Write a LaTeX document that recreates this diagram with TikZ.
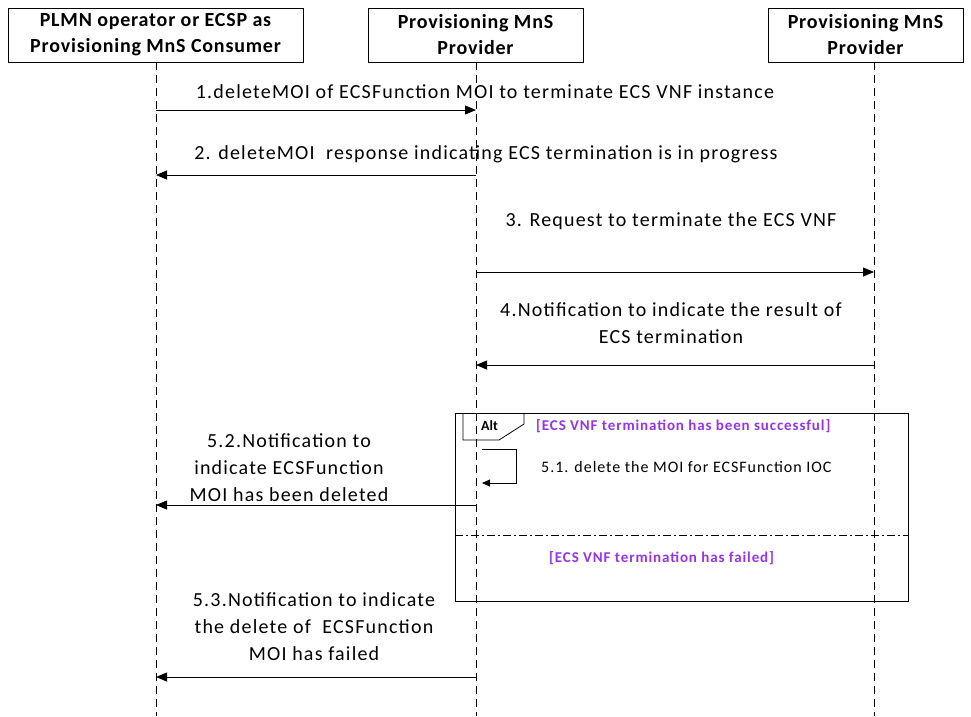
\documentclass[tikz,border=0pt]{standalone}
\usepackage{fontspec}
\setmainfont{Carlito}
\newfontfamily\wide[LetterSpace=6]{Carlito}
\newfontfamily\widehead[LetterSpace=4]{Carlito}
\usetikzlibrary{arrows.meta}
\definecolor{guard}{RGB}{150,50,240}
\begin{document}
\begin{tikzpicture}[x=1pt,y=-1pt,
  actor/.style={draw,line width=0.8pt,minimum height=54pt,inner sep=0pt,align=center,font=\widehead\fontsize{20}{26}\selectfont\bfseries},
  life/.style={dashed,dash pattern=on 8pt off 5pt,line width=0.6pt},
  msg/.style={line width=0.8pt,-{Triangle[length=11pt,width=9pt]}},
  lbl/.style={font=\wide\fontsize{20}{27}\selectfont,align=center,inner sep=0pt},
  grd/.style={font=\wide\fontsize{15}{16}\selectfont\bfseries,text=guard,inner sep=0pt,anchor=west}]
\useasboundingbox (0,0) rectangle (971,716);
\node[actor,minimum width=295pt] (A) at (155.5,35) {PLMN operator or ECSP as\\Provisioning MnS Consumer};
\node[actor,minimum width=215pt] (B) at (475.5,35) {Provisioning MnS\\Provider};
\node[actor,minimum width=195pt] (C) at (865.5,35) {Provisioning MnS\\Provider};
\coordinate (Aend) at (156,716);
\coordinate (Bend) at (476,716);
\coordinate (Cend) at (874,716);
\draw[life] (156,62) -- (Aend);
\draw[life] (476,62) -- (Bend);
\draw[life] (874,62) -- (Cend);
% messages
\coordinate (a1) at (156,110); \coordinate (b1) at (476,110);
\draw[msg] (a1) -- (b1);
\node[lbl] (l1) at (485,92) {1.deleteMOI of ECSFunction MOI to terminate ECS VNF instance};
\coordinate (a2) at (156,175); \coordinate (b2) at (476,175);
\draw[msg] (b2) -- (a2);
\node[lbl] (l2) at (486,154) {2. deleteMOI\ \ response indicating ECS termination is in progress};
\coordinate (b3) at (476,272); \coordinate (c3) at (874,272);
\draw[msg] (b3) -- (c3);
\node[lbl] (l3) at (671,221) {3. Request to terminate the ECS VNF};
\coordinate (b4) at (476,365); \coordinate (c4) at (874,365);
\draw[msg] (c4) -- (b4);
\node[lbl] (l4) at (671,323.5) {4.Notification to indicate the result of\\ECS termination};
% alt frame
\draw[line width=0.8pt] (455,413) rectangle (908,601);
\draw[line width=0.8pt] (463,413) -- (463,440) -- (499,440) -- (524,424) -- (524,413);
\node[font=\fontsize{14}{16}\selectfont\bfseries,anchor=west,inner sep=0pt] (alt) at (481,426) {Alt};
\node[grd] (g1) at (536,426) {[ECS VNF termination has been successful]};
\draw[line width=0.8pt,dash pattern=on 8pt off 3pt on 2pt off 3pt] (455,535) -- (908,535);
\node[grd] (g2) at (549,558) {[ECS VNF termination has failed]};
% self message
\coordinate (s1) at (482,449); \coordinate (s2) at (516,449); \coordinate (s3) at (516,483); \coordinate (s4) at (482,483);
\draw[line width=0.8pt,-{Triangle[length=8pt,width=7pt]}] (s1) -- (s2) -- (s3) -- (s4);
\node[font=\wide\fontsize{16}{18}\selectfont,anchor=west,inner sep=0pt] (l51) at (541,467) {5.1. delete the MOI for ECSFunction IOC};
% 5.2
\coordinate (a52) at (156,505); \coordinate (b52) at (476,505);
\draw[msg] (b52) -- (a52);
\node[lbl] (l52) at (289,468) {5.2.Notification to\\indicate ECSFunction\\MOI has been deleted};
% 5.3
\coordinate (a53) at (156,677); \coordinate (b53) at (476,677);
\draw[msg] (b53) -- (a53);
\node[lbl] (l53) at (314,627) {5.3.Notification to indicate\\the delete of\ \ ECSFunction\\MOI has failed};
\end{tikzpicture}
\end{document}
